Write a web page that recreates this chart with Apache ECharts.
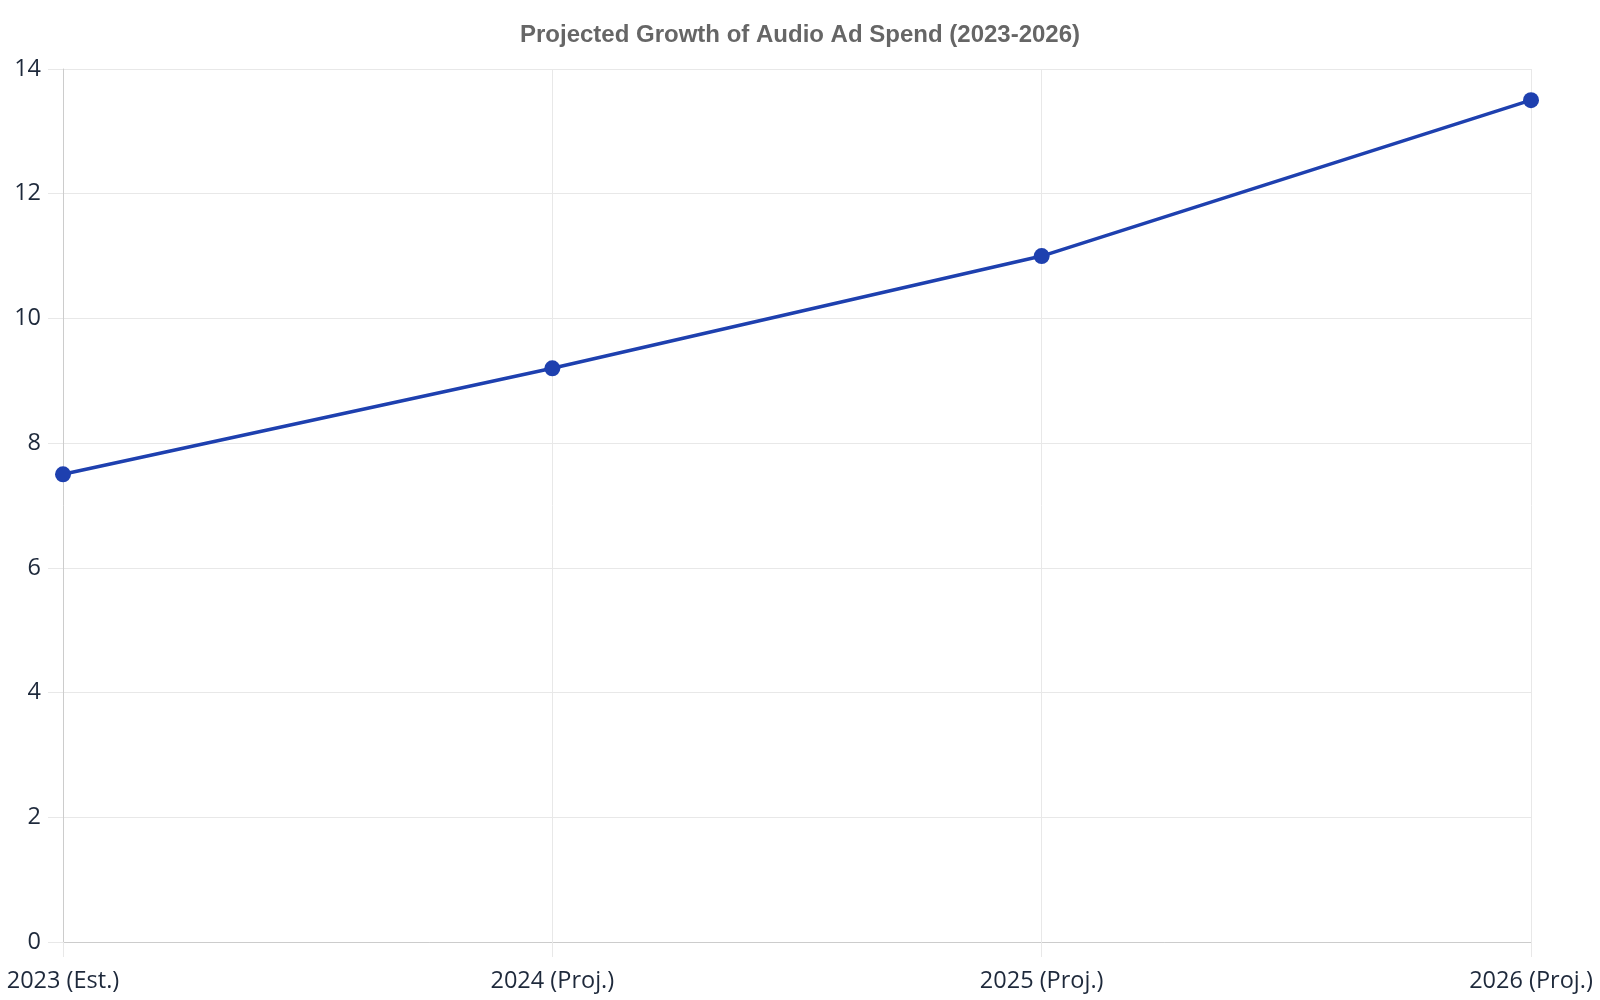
<!DOCTYPE html>
<head>
    <meta charset="utf-8"/>
</head>
<body style="margin:0;">
<div id="main" style="width:1600px;height:1000px;"></div>
<script src="https://cdn.jsdelivr.net/npm/echarts@6/dist/echarts.min.js"></script>
<script type="text/javascript">
 // chart data
 var categories = ['2023 (Est.)', '2024 (Proj.)', '2025 (Proj.)', '2026 (Proj.)'];
 var adSpend = [7.5, 9.2, 11.0, 13.5];

 var myChart = echarts.init(document.getElementById('main'));
 var options = {
    backgroundColor: '#ffffff',
    title: {
        text: 'Projected Growth of Audio Ad Spend (2023-2026)',
        left: 'center',
        top: 18,
        textStyle: {
            fontFamily: 'Liberation Sans',
            fontSize: 24,
            fontWeight: 'bold',
            color: '#666666'
        }
    },
    grid: {
        left: 63,
        right: 69,
        top: 69,
        bottom: 58
    },
    xAxis: {
        type: 'category',
        data: categories,
        boundaryGap: false,
        axisLine: { lineStyle: { color: '#cccccc' } },
        axisTick: { show: true, length: 15, lineStyle: { color: '#e8e8e8' } },
        axisLabel: {
            fontFamily: 'Open Sans',
            fontSize: 23.5,
            color: '#1e293b',
            margin: 27
        },
        splitLine: { show: true, lineStyle: { color: '#e8e8e8', width: 1 } }
    },
    yAxis: {
        type: 'value',
        min: 0,
        max: 14,
        interval: 2,
        axisLine: { show: true, lineStyle: { color: '#cccccc' } },
        axisTick: { show: true, length: 15, lineStyle: { color: '#e8e8e8' } },
        axisLabel: {
            fontFamily: 'Open Sans',
            fontSize: 23.5,
            color: '#1e293b',
            margin: 22
        },
        splitLine: { lineStyle: { color: '#e8e8e8', width: 1 } }
    },
    series: [{
        name: 'Audio Ad Spend',
        type: 'line',
        data: adSpend,
        symbol: 'circle',
        symbolSize: 16,
        itemStyle: { color: '#1e40af' },
        lineStyle: { color: '#1e40af', width: 3.5 }
    }]
 };
 myChart.setOption(options);
</script>
</body>
